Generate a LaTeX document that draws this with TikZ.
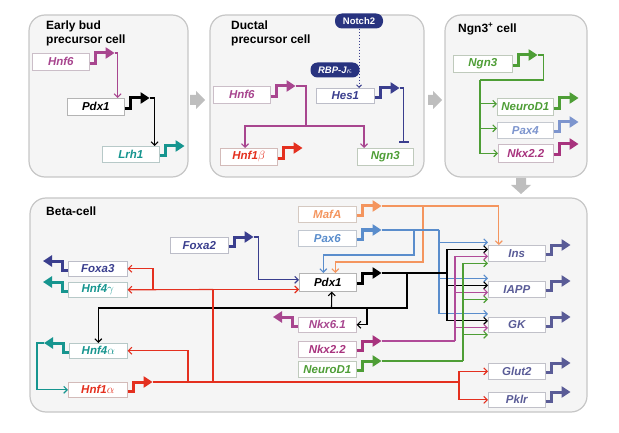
\documentclass[tikz,border=0pt]{standalone}
\usepackage{fontspec}
\setmainfont{Liberation Sans}
\usetikzlibrary{arrows.meta,calc}
\definecolor{cmag}{HTML}{A8468F}
\definecolor{cteal}{HTML}{16958F}
\definecolor{cnavy}{HTML}{3A3E8E}
\definecolor{cpill}{HTML}{28337F}
\definecolor{cred}{HTML}{E4301F}
\definecolor{cgreen}{HTML}{4E9E36}
\definecolor{cpax4}{HTML}{7D95CE}
\definecolor{cnkx}{HTML}{A8337E}
\definecolor{corange}{HTML}{F4955E}
\definecolor{cpax6}{HTML}{5A8DCC}
\definecolor{cslate}{HTML}{5A5C97}
\definecolor{cgrayarr}{HTML}{BEBEBE}
\definecolor{cpanel}{HTML}{F5F5F5}
\definecolor{cpanelb}{HTML}{C6C6C6}
\definecolor{cpink}{HTML}{B04A98}
\newcommand\gfont{\fontsize{11.5}{13}\selectfont\bfseries\itshape}
\newcommand\tfont{\fontsize{12}{14}\selectfont\bfseries}
\newcommand\promR[2]{\draw[promline,#2] ($(#1.east)+(0,1.5)$) -- ++(6,0) |- ($(#1.north east)+(25,0)$) coordinate (#1-p);}
\newcommand\promL[2]{\draw[promline,#2] ($(#1.west)+(0,1.5)$) -- ++(-6,0) |- ($(#1.north west)+(-25,0)$) coordinate (#1-p);}
\begin{document}
\begin{tikzpicture}[x=1pt,y=-1pt,
  panel/.style={draw=cpanelb, fill=cpanel, line width=1.2pt, rounded corners=16pt},
  gbox/.style={draw=#1!30!gray!45, line width=0.6pt, fill=white, text=#1, font=\gfont, inner sep=0pt, anchor=north west},
  ttl/.style={font=\tfont, anchor=north west, align=left, inner sep=0pt},
  pill/.style={fill=cpill, text=white, rounded corners=7pt, inner sep=0pt, font=\fontsize{9.5}{10}\selectfont\bfseries},
  promline/.style={line width=3pt, line join=miter, -{Triangle[length=9pt,width=11pt]}},
  line/.style={line width=1.1pt},
  conn/.style={line width=1.1pt, -{Straight Barb[length=3.5pt,width=7pt]}},
  inh/.style={line width=1.1pt, -{Bar[width=10pt,line width=1.5pt]}}]
\useasboundingbox (0,0) rectangle (619,433);

% panels
\draw[panel] (29,15) rectangle (188,177);
\draw[panel] (210,15) rectangle (424,177);
\draw[panel] (445,15) rectangle (587,177);
\draw[panel] (30,198) rectangle (587,412);

% transition arrows
\fill[cgrayarr] (190,95)--(196,95)--(196,91)--(205,100)--(196,109)--(196,105)--(190,105)--cycle;
\fill[cgrayarr] (428,95)--(433,95)--(433,91)--(442,100)--(433,109)--(433,105)--(428,105)--cycle;
\fill[cgrayarr] (516,178)--(526,178)--(526,185)--(531,185)--(521,194)--(511,185)--(516,185)--cycle;

% titles
\node[ttl] (t1) at (46,21) {Early bud\\precursor cell};
\node[ttl] (t2) at (231,21) {Ductal\\precursor cell};
\node[ttl] (t3) at (458,23) {Ngn3\textsuperscript{+} cell};
\node[ttl] (t4) at (46,207) {Beta-cell};

% panel 1
\node[gbox=cmag, minimum width=57, minimum height=17] (hnf6a) at (32,53) {Hnf6};
\node[gbox=black, minimum width=57, minimum height=17] (pdx1a) at (67,98) {Pdx1};
\node[gbox=cteal, minimum width=57, minimum height=16] (lrh1) at (102,146) {Lrh1};
\promR{hnf6a}{cmag}
\promR{pdx1a}{black}
\promR{lrh1}{cteal}
\draw[conn,cmag] (hnf6a-p) -| ([xshift=-7pt]pdx1a.north east);
\draw[conn,black] (pdx1a-p) -| ([xshift=-5pt]lrh1.north east);

% panel 2
\node[gbox=cmag, minimum width=57, minimum height=17] (hnf6b) at (213,86) {Hnf6};
\node[gbox=cnavy, minimum width=58, minimum height=15] (hes1) at (316,88) {Hes1};
\node[gbox=cred, minimum width=57, minimum height=17] (hnf1b) at (220,148) {Hnf1$\beta$};
\node[gbox=cgreen, minimum width=56, minimum height=17] (ngn3b) at (357,148) {Ngn3};
\node[pill, minimum width=48, minimum height=15] (notch) at (359,21) {Notch2};
\node[pill, minimum width=49, minimum height=15] (rbp) at (335,70) {\itshape RBP-J$\kappa$};
\promR{hnf6b}{cmag}
\promR{hes1}{cnavy}
\promR{hnf1b}{cred}
\draw[dotted, line width=1pt, cnavy, -{Straight Barb[length=2.5pt,width=5pt]}] (notch.south) -- (notch.south |- hes1.north);
\draw[inh,cnavy] (hes1-p) -| ([xshift=-10pt,yshift=5pt]ngn3b.north east);
\coordinate (j1) at (306,126);
\draw[line,cmag] (hnf6b-p) -| (j1);
\draw[conn,cmag] (j1) -| ([xshift=25pt]hnf1b.north west);
\draw[conn,cmag] (j1) -| ([xshift=7pt]ngn3b.north west);

% panel 3
\node[gbox=cgreen, minimum width=59, minimum height=17] (ngn3c) at (453,55) {Ngn3};
\node[gbox=cgreen, minimum width=56, minimum height=17] (neurod1c) at (497,98) {NeuroD1};
\node[gbox=cpax4, minimum width=56, minimum height=16] (pax4c) at (497,122) {Pax4};
\node[gbox=cnkx, minimum width=55, minimum height=18] (nkx22c) at (498,144) {Nkx2.2};
\promR{ngn3c}{cgreen}
\promR{neurod1c}{cgreen}
\promR{pax4c}{cpax4}
\promR{nkx22c}{cnkx}
\coordinate (j2) at (480,80);
\draw[line,cgreen] (ngn3c-p) -- ++(6,0) |- (j2);
\draw[conn,cgreen] (j2) |- ([yshift=3pt]neurod1c.west);
\draw[conn,cgreen] (j2) |- ([yshift=2pt]pax4c.west);
\draw[conn,cgreen] (j2) |- (nkx22c.west);

% beta cell
\node[gbox=cnavy, minimum width=58, minimum height=16] (foxa2) at (170,237) {Foxa2};
\node[gbox=cnavy, minimum width=59, minimum height=15] (foxa3) at (68,261) {Foxa3};
\node[gbox=cteal, minimum width=59, minimum height=15] (hnf4g) at (68,282) {Hnf4$\gamma$};
\node[gbox=cteal, minimum width=58, minimum height=15] (hnf4a) at (69,343) {Hnf4$\alpha$};
\node[gbox=cred, minimum width=59, minimum height=15] (hnf1a) at (68,382) {Hnf1$\alpha$};
\node[gbox=corange, minimum width=58, minimum height=16] (mafa) at (298,206) {MafA};
\node[gbox=cpax6, minimum width=58, minimum height=16] (pax6) at (298,230) {Pax6};
\node[gbox=black, minimum width=57, minimum height=18] (pdx1b) at (299,273) {Pdx1};
\node[gbox=cmag, minimum width=58, minimum height=15] (nkx61) at (298,317) {Nkx6.1};
\node[gbox=cnkx, minimum width=58, minimum height=16] (nkx22b) at (298,341) {Nkx2.2};
\node[gbox=cgreen, minimum width=58, minimum height=16] (neurod1b) at (298,361) {NeuroD1};
\node[gbox=cslate, minimum width=57, minimum height=16] (ins) at (488,245) {Ins};
\node[gbox=cslate, minimum width=57, minimum height=16] (iapp) at (488,281) {IAPP};
\node[gbox=cslate, minimum width=57, minimum height=15] (gk) at (488,317) {GK};
\node[gbox=cslate, minimum width=57, minimum height=16] (glut2) at (488,363) {Glut2};
\node[gbox=cslate, minimum width=57, minimum height=15] (pklr) at (488,392) {Pklr};

\promR{foxa2}{cnavy}
\promL{foxa3}{cnavy}
\promL{hnf4g}{cteal}
\promL{hnf4a}{cteal}
\promR{hnf1a}{cred}
\promR{mafa}{corange}
\promR{pax6}{cpax6}
\promR{pdx1b}{black}
\promL{nkx61}{cmag}
\promR{nkx22b}{cnkx}
\promR{neurod1b}{cgreen}
\promR{ins}{cslate}
\promR{iapp}{cslate}
\promR{gk}{cslate}
\promR{glut2}{cslate}
\promR{pklr}{cslate}

% orange
\draw[conn,corange] (mafa-p) -| ([xshift=-18pt]ins.north);
\draw[conn,corange] (423,206) -- (423,262) -| ([xshift=7.5pt]pdx1b.north);
% blue
\coordinate (b0) at (439,230);
\draw[line,cpax6] (pax6-p) -- (b0);
\draw[conn,cpax6] (b0) |- ([yshift=11pt]ins.west);
\draw[conn,cpax6] (b0) |- ([yshift=11pt]iapp.west);
\draw[conn,cpax6] (b0) |- ([yshift=11pt]gk.west);
\draw[conn,cpax6] (414,230) -- (414,255) -| ([xshift=-4.5pt]pdx1b.north);
% black
\coordinate (k0) at (447,273);
\draw[line,black] (pdx1b-p) -- (k0);
\draw[conn,black] (k0) |- ([yshift=4pt]ins.west);
\draw[conn,black] (k0) |- ([yshift=4pt]iapp.west);
\draw[conn,black] (k0) |- ([yshift=4pt]gk.west);
\draw[conn,black] (407,273) -- (407,308) -| (hnf4a.north);
\draw[conn,black] (331.5,308) -- ([xshift=4pt]pdx1b.south);
\draw[conn,black] (367,308) |- (nkx61.east);
% pink
\coordinate (p0) at (455,341);
\draw[line,cpink] (nkx22b-p) -- (p0);
\draw[conn,cpink] (p0) |- ([yshift=-3pt]ins.west);
\draw[conn,cpink] (p0) |- ([yshift=-3pt]iapp.west);
\draw[conn,cpink] (p0) |- ([yshift=-3pt]gk.west);
% green
\coordinate (g0) at (463,361);
\draw[line,cgreen] (neurod1b-p) -- (g0);
\draw[conn,cgreen] (g0) |- ([yshift=-10pt]ins.west);
\draw[conn,cgreen] (g0) |- ([yshift=-10pt]iapp.west);
\draw[conn,cgreen] (g0) |- ([yshift=-10pt]gk.west);
% navy Foxa2
\draw[conn,cnavy] (foxa2-p) -- ++(5,0) |- ([yshift=2.5pt]pdx1b.west);
% red
\coordinate (r0) at (459,382);
\coordinate (r2) at (213,289.5);
\draw[conn,cred] (hnf1a-p) -- (r0) |- (glut2.west);
\draw[conn,cred] (r0) |- (pklr.west);
\draw[conn,cred] (188,382) |- (hnf4a.east);
\draw[line,cred] (213,382) -- (r2);
\draw[conn,cred] (r2) -- (hnf4g.east);
\draw[conn,cred] (r2) -- (r2 -| pdx1b.west);
\draw[conn,cred] (153,289.5) |- (foxa3.east);
% teal
\draw[conn,cteal] (hnf4a-p) -- ++(-7,0) |- (hnf1a.west);
\end{tikzpicture}
\end{document}
